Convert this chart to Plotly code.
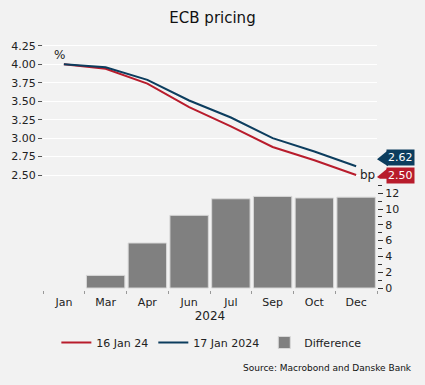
import plotly.graph_objects as go

months = ["Jan", "Mar", "Apr", "Jun", "Jul", "Sep", "Oct", "Dec"]
pricing_16jan = [4.00, 3.94, 3.74, 3.42, 3.16, 2.88, 2.70, 2.50]
pricing_17jan = [4.00, 3.96, 3.79, 3.51, 3.28, 3.00, 2.82, 2.62]
difference_bp = [None, 1.6, 5.7, 9.2, 11.3, 11.6, 11.4, 11.5]

RED = "#b81c2c"
BLUE = "#0c3d5e"
GREY = "#808080"
BG = "#f2f2f2"
FONT = "DejaVu Sans"

fig = go.Figure()
fig.add_trace(go.Scatter(x=months, y=pricing_16jan, name="16 Jan 24", mode="lines",
                         line=dict(color=RED, width=2)))
fig.add_trace(go.Scatter(x=months, y=pricing_17jan, name="17 Jan 2024", mode="lines",
                         line=dict(color=BLUE, width=2)))
fig.add_trace(go.Bar(x=months, y=difference_bp, name="Difference", yaxis="y2",
                     marker=dict(color=GREY, line=dict(color="#d8d8d8", width=1))))

fig.update_layout(
    width=425, height=385,
    paper_bgcolor=BG, plot_bgcolor=BG,
    margin=dict(l=43, r=48, t=40, b=95),
    font=dict(family=FONT, size=11, color="#222"),
    title=dict(text="ECB pricing", x=0.5, xanchor="center", y=0.955, yanchor="middle",
               font=dict(size=15, color="#111")),
    bargap=0.08,
    showlegend=True,
    legend=dict(orientation="h", x=0.04, xanchor="left", y=-0.21, yanchor="middle",
                font=dict(size=11), traceorder="normal", itemwidth=30,
                bgcolor="rgba(0,0,0,0)"),
    xaxis=dict(type="category", anchor="y2", tickson="boundaries", ticks="outside",
               ticklen=3, tickcolor="#999", showgrid=False, showline=False,
               ticklabelstandoff=4,
               title=dict(text="2024", standoff=3, font=dict(size=12)),
               tickfont=dict(size=11)),
    yaxis=dict(domain=[0.445, 1], range=[2.45, 4.33], tick0=2.5, dtick=0.25,
               tickformat=".2f", ticks="outside", ticklen=4, tickcolor="#555",
               showgrid=True, gridcolor="#ffffff", gridwidth=1, zeroline=False,
               showline=False, tickfont=dict(size=11)),
    yaxis2=dict(domain=[0, 0.42], range=[-0.25, 13.04], anchor="x", side="right",
                dtick=2, tick0=0, ticks="outside", ticklen=5,
                tickcolor="#333", showgrid=False, zeroline=False, showline=False,
                minor=dict(dtick=1, ticks="outside", ticklen=4, tickcolor="#333"),
                tickfont=dict(size=11)),
)

# unit labels
fig.add_annotation(text="%", xref="paper", yref="paper", x=0.027, y=0.94,
                   xanchor="left", yanchor="middle",
                   showarrow=False, font=dict(size=12))
fig.add_annotation(text="bp", xref="paper", yref="y", x=0.973, y=pricing_16jan[-1],
                   xanchor="center", yanchor="middle",
                   showarrow=False, font=dict(size=12))

# end-value tags
for val, col, shift in [(pricing_17jan[-1], BLUE, 9), (pricing_16jan[-1], RED, 0)]:
    fig.add_annotation(text=f"{val:.2f}", xref="paper", yref="y", x=1.028, y=val,
                       xanchor="left", yanchor="middle", yshift=shift, showarrow=False,
                       bgcolor=col, font=dict(color="white", size=11),
                       borderpad=1)
    fig.add_shape(type="path", xref="paper", yref="y", xsizemode="pixel",
                  ysizemode="pixel", xanchor=1.0, yanchor=val,
                  path=f"M 0,{shift-2} L 11,{shift+7} L 11,{shift-9} Z",
                  fillcolor=col, line=dict(width=0))

fig.add_annotation(text="Source: Macrobond and Danske Bank", xref="paper", yref="paper",
                   x=1.11, y=-0.31, xanchor="right", yanchor="middle", showarrow=False,
                   font=dict(size=9, color="#111"))

fig.write_html("out.html", config={"displayModeBar": False},
               post_script="document.body.style.margin='0';")
